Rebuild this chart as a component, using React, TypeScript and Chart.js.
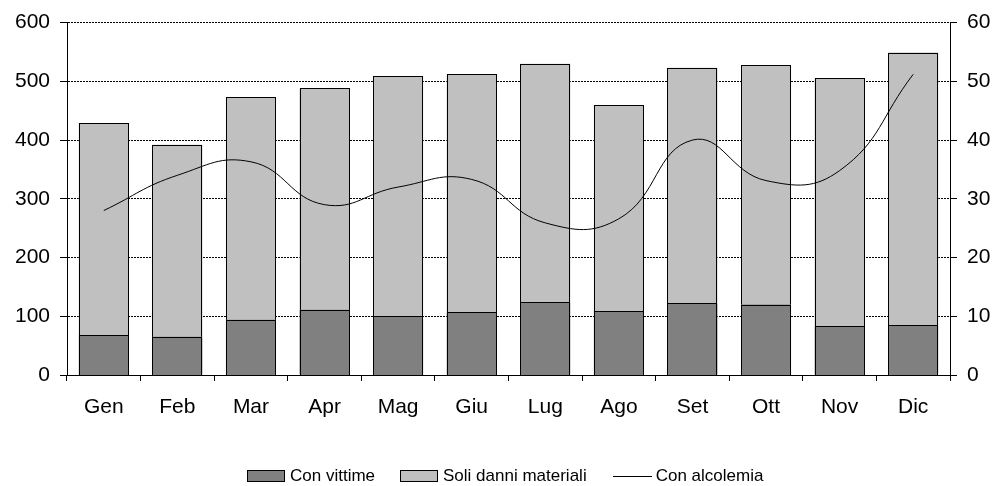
import React, { useEffect, useRef } from "react";
import { Chart, registerables } from "chart.js";

Chart.register(...registerables);

const months = ["Gen", "Feb", "Mar", "Apr", "Mag", "Giu", "Lug", "Ago", "Set", "Ott", "Nov", "Dic"];
const conVittime = [68, 65, 94, 111, 100, 107, 124, 109, 122, 120, 83, 85];
const soliDanni = [361, 327, 379, 377, 409, 405, 406, 350, 401, 407, 422, 464];
const conAlcolemia = [28, 34, 36.3, 29, 32, 33.3, 25.9, 26.6, 40, 33.1, 34.8, 51.2];
const leftTicks = [0, 100, 200, 300, 400, 500, 600];
const rightTicks = [0, 10, 20, 30, 40, 50, 60];

const FONT = "'Liberation Sans', Arial, Helvetica, sans-serif";

// Crisp, pixel-snapped outlines for the bars (positions come from Chart.js elements)
const crispBars = {
  id: "crispBars",
  afterDatasetDraw(chart: any, args: any) {
    const meta = args.meta;
    if (meta.type !== "bar") return;
    const ds = chart.data.datasets[args.index];
    const ctx = chart.ctx;
    ctx.save();
    meta.data.forEach((el: any) => {
      const p = el.getProps(["x", "y", "base", "width"], true);
      const l = Math.round(p.x - p.width / 2);
      const r = Math.round(p.x + p.width / 2);
      const t = Math.round(Math.min(p.y, p.base));
      const b = Math.round(Math.max(p.y, p.base));
      ctx.fillStyle = ds.backgroundColor;
      ctx.fillRect(l, t, r - l, b - t);
      ctx.strokeStyle = "#000";
      ctx.lineWidth = 1;
      ctx.strokeRect(l + 0.5, t + 0.5, r - l - 1, b - t);
    });
    ctx.restore();
  },
};

export default function App() {
  const ref = useRef<HTMLCanvasElement | null>(null);

  useEffect(() => {
    const canvas = ref.current;
    if (!canvas) return;
    const chart = new Chart(canvas, {
      type: "bar",
      data: {
        labels: months,
        datasets: [
          {
            type: "line",
            label: "Con alcolemia",
            data: conAlcolemia,
            yAxisID: "y2",
            borderColor: "#000",
            borderWidth: 1,
            pointRadius: 0,
            tension: 0.45,
            fill: false,
            order: 0,
          },
          {
            label: "Con vittime",
            data: conVittime,
            backgroundColor: "#808080",
            borderWidth: 0,
            barPercentage: 0.68,
            categoryPercentage: 1,
            yAxisID: "y",
            stack: "s",
            order: 1,
          },
          {
            label: "Soli danni materiali",
            data: soliDanni,
            backgroundColor: "#c0c0c0",
            borderWidth: 0,
            barPercentage: 0.68,
            categoryPercentage: 1,
            yAxisID: "y",
            stack: "s",
            order: 1,
          },
        ] as any,
      },
      plugins: [crispBars],
      options: {
        responsive: false,
        animation: false,
        layout: { padding: { top: 22, left: 0, right: 0, bottom: 0 } },
        plugins: {
          legend: { display: false },
          tooltip: { enabled: false },
        },
        scales: {
          x: {
            stacked: true,
            offset: true,
            grid: {
              offset: true,
              drawOnChartArea: false,
              drawTicks: true,
              tickLength: 6,
              color: "#000",
            },
            border: { display: true, color: "#000", width: 1 },
            ticks: {
              color: "#000",
              font: { family: FONT, size: 21 },
              padding: 14,
              maxRotation: 0,
            },
            afterFit: (s: any) => {
              s.height = 111;
            },
          },
          y: {
            position: "left",
            stacked: true,
            min: 0,
            max: 600,
            afterBuildTicks: (s: any) => {
              s.ticks = leftTicks.map((v) => ({ value: v }));
            },
            grid: {
              color: "#000",
              lineWidth: 1,
              tickLength: 7,
              tickColor: "#000",
            },
            border: { display: true, color: "#000", width: 1, dash: [2, 1] },
            ticks: {
              color: "#000",
              font: { family: FONT, size: 21 },
              padding: 10,
            },
            afterFit: (s: any) => {
              s.width = 67;
            },
          },
          y2: {
            position: "right",
            min: 0,
            max: 60,
            afterBuildTicks: (s: any) => {
              s.ticks = rightTicks.map((v) => ({ value: v }));
            },
            grid: {
              drawOnChartArea: false,
              tickLength: 7,
              color: "#000",
            },
            border: { display: true, color: "#000", width: 1 },
            ticks: {
              color: "#000",
              font: { family: FONT, size: 21 },
              padding: 10,
            },
            afterFit: (s: any) => {
              s.width = 46;
            },
          },
        },
      },
    });
    return () => chart.destroy();
  }, []);

  const legendText: React.CSSProperties = {
    fontFamily: FONT,
    fontSize: 17,
    color: "#000",
    whiteSpace: "nowrap",
    lineHeight: "20px",
  };

  return (
    <div style={{ position: "absolute", left: 0, top: 0, width: 996, height: 486, background: "#fff", overflow: "hidden" }}>
      <canvas ref={ref} width={996} height={486} style={{ position: "absolute", left: 0, top: 0, width: 996, height: 486 }} />
      <div style={{ position: "absolute", left: 247, top: 466, display: "flex", alignItems: "center", height: 20 }}>
        <span style={{ display: "inline-block", width: 36, height: 10, background: "#808080", border: "1px solid #000" }} />
        <span style={{ ...legendText, marginLeft: 5 }}>Con vittime</span>
        <span style={{ display: "inline-block", width: 36, height: 10, background: "#c0c0c0", border: "1px solid #000", marginLeft: 25 }} />
        <span style={{ ...legendText, marginLeft: 5 }}>Soli danni materiali</span>
        <span style={{ display: "inline-block", width: 39, height: 1, background: "#000", marginLeft: 26 }} />
        <span style={{ ...legendText, marginLeft: 4 }}>Con alcolemia</span>
      </div>
    </div>
  );
}
